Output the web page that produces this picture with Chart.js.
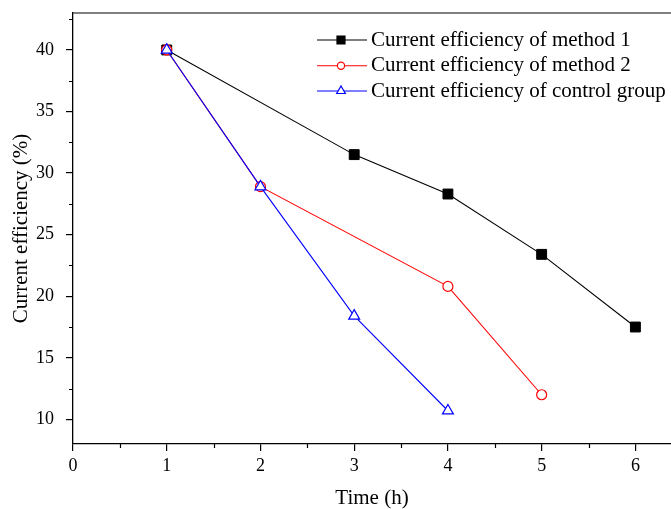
<!DOCTYPE html>
<html>
<head>
<meta charset="utf-8">
<script src="https://cdn.jsdelivr.net/npm/chart.js@4.4.1/dist/chart.umd.min.js"></script>
<style>
  html, body { margin: 0; padding: 0; background: #fff; }
  #wrap { width: 671px; height: 509px; }
</style>
</head>
<body>
<div id="wrap"><canvas id="c" width="671" height="509"></canvas></div>
<script>
// ---- data ----
const seriesLabels = [
  'Current efficiency of method 1',
  'Current efficiency of method 2',
  'Current efficiency of control group'
];
const timeMethod1 = [1, 3, 4, 5, 6];
const effMethod1  = [40, 31.5, 28.3, 23.4, 17.5];
const timeMethod2 = [1, 2, 4, 5];
const effMethod2  = [40, 28.9, 20.8, 12.0];
const timeControl = [1, 2, 3, 4];
const effControl  = [40, 28.9, 18.4, 10.7];
const xTickValues = [0, 1, 2, 3, 4, 5, 6];
const yTickValues = [10, 15, 20, 25, 30, 35, 40];
const xMinorValues = [0.5, 1.5, 2.5, 3.5, 4.5, 5.5];
const yMinorValues = [12.5, 17.5, 22.5, 27.5, 32.5, 37.5, 42.5];

const FONT = "'Liberation Serif', 'Times New Roman', serif";
const toPts = (xs, ys) => xs.map((x, i) => ({ x: x, y: ys[i] }));
const noPad = s => {
  s.paddingTop = 0; s.paddingBottom = 0; s.paddingLeft = 0; s.paddingRight = 0;
};

const frame = {
  id: 'frame',
  afterDraw(chart) {
    const ctx = chart.ctx;
    const a = chart.chartArea;
    const xs = chart.scales.x, ys = chart.scales.y;
    ctx.save();
    // top axis line
    ctx.strokeStyle = '#555';
    ctx.lineWidth = 1.3;
    ctx.beginPath();
    ctx.moveTo(a.left, a.top);
    ctx.lineTo(a.right, a.top);
    ctx.stroke();
    // minor ticks
    ctx.strokeStyle = '#000';
    ctx.lineWidth = 1.2;
    ctx.beginPath();
    yMinorValues.forEach(v => {
      const p = Math.round(ys.getPixelForValue(v)) + 0.5;
      if (p >= a.top - 1 && p <= a.bottom) { ctx.moveTo(a.left, p); ctx.lineTo(a.left - 4, p); }
    });
    xMinorValues.forEach(v => {
      const p = Math.round(xs.getPixelForValue(v)) + 0.5;
      if (p >= a.left && p <= a.right) { ctx.moveTo(p, a.bottom); ctx.lineTo(p, a.bottom + 4); }
    });
    ctx.stroke();

    // legend
    const rowY = [40, 65.7, 91];
    const x0 = 317, x1 = 367, xm = 341, tx = 371;
    chart.data.datasets.forEach((ds, i) => {
      const y = rowY[i];
      ctx.strokeStyle = ds.borderColor;
      ctx.lineWidth = 1.1;
      ctx.beginPath();
      ctx.moveTo(x0, y); ctx.lineTo(x1, y);
      ctx.stroke();
      ctx.fillStyle = ds.pointBackgroundColor;
      ctx.strokeStyle = ds.pointBorderColor;
      ctx.lineWidth = 1.2;
      ctx.beginPath();
      if (ds.pointStyle === 'rect') {
        ctx.rect(xm - 4, y - 4, 8, 8);
      } else if (ds.pointStyle === 'circle') {
        ctx.arc(xm, y, 3.6, 0, Math.PI * 2);
      } else {
        const r = 5;
        ctx.moveTo(xm, y - r);
        ctx.lineTo(xm + r * 0.866, y + r * 0.5);
        ctx.lineTo(xm - r * 0.866, y + r * 0.5);
        ctx.closePath();
      }
      ctx.fill();
      ctx.stroke();
      ctx.fillStyle = '#000';
      ctx.font = '21px ' + FONT;
      ctx.textBaseline = 'middle';
      ctx.textAlign = 'left';
      ctx.fillText(ds.label, tx, y);
    });
    ctx.restore();
  }
};

new Chart(document.getElementById('c'), {
  type: 'line',
  data: {
    datasets: [
      {
        label: seriesLabels[0], data: toPts(timeMethod1, effMethod1), order: 3,
        borderColor: '#000000', borderWidth: 1.1,
        pointStyle: 'rect', pointRadius: 7, pointBorderWidth: 1,
        pointBackgroundColor: '#000000', pointBorderColor: '#000000'
      },
      {
        label: seriesLabels[1], data: toPts(timeMethod2, effMethod2), order: 2,
        borderColor: '#ff0000', borderWidth: 1.1,
        pointStyle: 'circle', pointRadius: 5, pointBorderWidth: 1.2,
        pointBackgroundColor: '#ffffff', pointBorderColor: '#ff0000'
      },
      {
        label: seriesLabels[2], data: toPts(timeControl, effControl), order: 1,
        borderColor: '#0000ff', borderWidth: 1.1,
        pointStyle: 'triangle', pointRadius: 6.3, pointBorderWidth: 1.2,
        pointBackgroundColor: '#ffffff', pointBorderColor: '#0000ff'
      }
    ]
  },
  options: {
    responsive: false,
    animation: false,
    devicePixelRatio: 1,
    layout: { autoPadding: false, padding: { top: 13, right: 0, left: 0, bottom: 0 } },
    plugins: { legend: { display: false }, tooltip: { enabled: false } },
    elements: { line: { tension: 0, fill: false } },
    scales: {
      x: {
        type: 'linear', min: 0, max: 6.38,
        afterBuildTicks: s => { s.ticks = xTickValues.map(v => ({ value: v })); },
        afterFit: s => { s.height = 65; noPad(s); },
        grid: { drawOnChartArea: false, drawTicks: true, tickLength: 7, color: '#000', lineWidth: 1.2 },
        border: { display: true, color: '#000', width: 1.3 },
        ticks: { color: '#000', font: { family: FONT, size: 18 }, padding: 4, maxRotation: 0 },
        title: { display: true, text: 'Time (h)', color: '#000',
                 font: { family: FONT, size: 21, lineHeight: 1 }, padding: { top: 0, bottom: 0 } }
      },
      y: {
        type: 'linear', min: 8, max: 43,
        afterBuildTicks: s => { s.ticks = yTickValues.map(v => ({ value: v })); },
        afterFit: s => { s.width = 73; noPad(s); },
        grid: { drawOnChartArea: false, drawTicks: true, tickLength: 7, color: '#000', lineWidth: 1.2 },
        border: { display: true, color: '#000', width: 1.3 },
        ticks: { color: '#000', font: { family: FONT, size: 18 }, padding: 12 },
        title: { display: true, text: 'Current efficiency (%)', color: '#000',
                 font: { family: FONT, size: 21, lineHeight: 1 }, padding: { top: 11, bottom: 0 } }
      }
    }
  },
  plugins: [frame]
});
</script>
</body>
</html>
